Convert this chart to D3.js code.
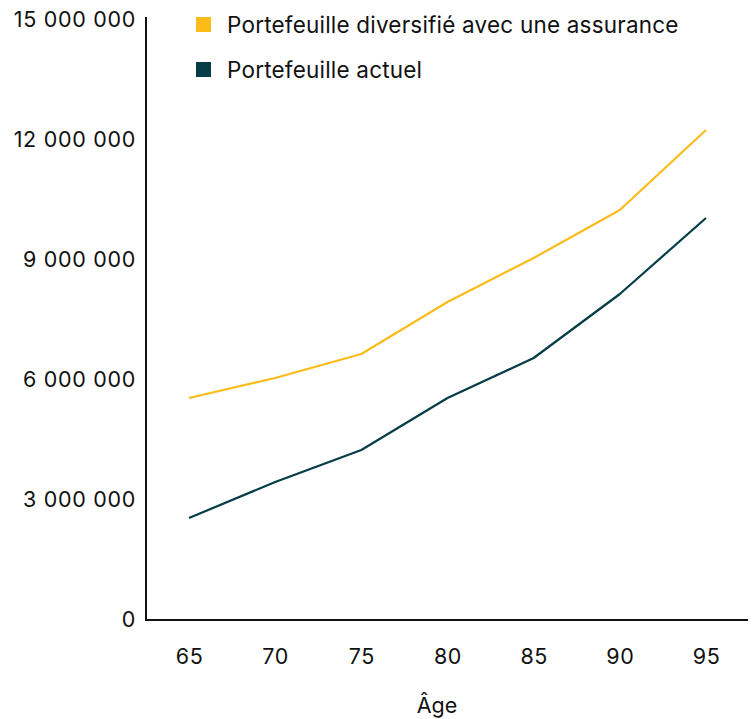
<!DOCTYPE html>
<html lang="fr">
<head>
<meta charset="utf-8">
<script src="https://cdn.jsdelivr.net/npm/d3@7"></script>
<style>
  html, body { margin: 0; padding: 0; background: #fff; }
  svg text { font-family: Inter, "Open Sans", sans-serif; fill: #111; }
</style>
</head>
<body>
<svg id="chart" width="754" height="719"></svg>
<script>
// Âges sur l'axe horizontal
const ages = [65, 70, 75, 80, 85, 90, 95];
// Valeur du portefeuille diversifié avec une assurance
const diversifie = [5550000, 6050000, 6650000, 7950000, 9050000, 10250000, 12250000];
// Valeur du portefeuille actuel
const actuel = [2550000, 3450000, 4250000, 5550000, 6550000, 8150000, 10050000];
const yTicks = [0, 3000000, 6000000, 9000000, 12000000, 15000000];
const seriesNames = ["Portefeuille diversifié avec une assurance", "Portefeuille actuel"];
const seriesColors = ["#FDBB1A", "#053C46"];

const svg = d3.select("#chart");
const plotLeft = 146, plotRight = 748, plotTop = 20, plotBottom = 620;

const x = d3.scaleLinear().domain([65, 95]).range([189, 706]);
const y = d3.scaleLinear().domain([0, 15000000]).range([plotBottom, plotTop]);

const fmt = v => d3.format(",")(v).replace(/,/g, "\u00a0");

// Axe vertical
const yAxis = svg.append("g")
  .attr("transform", `translate(${plotLeft},0)`)
  .call(d3.axisLeft(y).tickValues(yTicks).tickSize(0).tickPadding(10).tickFormat(fmt));
yAxis.select(".domain").remove();
yAxis.selectAll("text")
  .attr("font-size", 21.5)
  .attr("letter-spacing", 0.7)
  .style("font-family", "Inter, sans-serif");

// Axe horizontal
const xAxis = svg.append("g")
  .attr("transform", `translate(0,${plotBottom})`)
  .call(d3.axisBottom(x).tickValues(ages).tickSize(0).tickPadding(29).tickFormat(d3.format("d")));
xAxis.select(".domain").remove();
xAxis.selectAll("text")
  .attr("font-size", 21.5)
  .attr("letter-spacing", 0.6)
  .style("font-family", "Inter, sans-serif");

svg.append("line")
  .attr("x1", plotLeft).attr("x2", plotLeft)
  .attr("y1", 17).attr("y2", plotBottom + 1)
  .attr("stroke", "#111").attr("stroke-width", 2);
svg.append("line")
  .attr("x1", plotLeft - 1).attr("x2", plotRight)
  .attr("y1", plotBottom).attr("y2", plotBottom)
  .attr("stroke", "#111").attr("stroke-width", 2);

// Titre de l'axe horizontal
svg.append("text")
  .attr("x", 437).attr("y", 713)
  .attr("text-anchor", "middle")
  .attr("font-size", 21.5)
  .text("Âge");

// Courbes
const line = d3.line()
  .x((d, i) => x(ages[i]))
  .y(d => y(d));

[diversifie, actuel].forEach((s, k) => {
  svg.append("path")
    .datum(s)
    .attr("fill", "none")
    .attr("stroke", seriesColors[k])
    .attr("stroke-width", 2.2)
    .attr("stroke-linejoin", "round")
    .attr("d", line);
});

// Légende
const legend = svg.append("g");
seriesNames.forEach((name, k) => {
  const gy = 24.5 + k * 45;
  legend.append("rect")
    .attr("x", 196).attr("y", gy - 7.5)
    .attr("width", 15).attr("height", 15)
    .attr("fill", seriesColors[k]);
  legend.append("text")
    .attr("x", 227).attr("y", gy + 8)
    .attr("font-size", 22.5)
    .attr("letter-spacing", 0.2)
    .text(name);
});
</script>
</body>
</html>
